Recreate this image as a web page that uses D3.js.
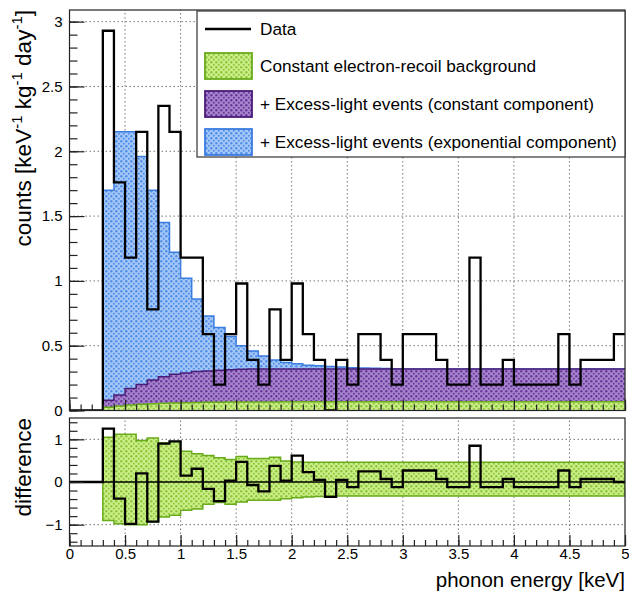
<!DOCTYPE html>
<html>
<head>
<meta charset="utf-8">
<script src="https://cdn.jsdelivr.net/npm/d3@7"></script>
<style>
    body { margin: 0; background: #fff; }
    svg text { font-family: "Liberation Sans", Arial, Helvetica, sans-serif; fill: #000; }
</style>
</head>
<body>
<div id="chart"></div>
<script>
// lower edge of every 0.1 keV bin that has content
var binLow = [0.3, 0.4, 0.5, 0.6, 0.7, 0.8, 0.9, 1.0, 1.1, 1.2,
              1.3, 1.4, 1.5, 1.6, 1.7, 1.8, 1.9, 2.0, 2.1, 2.2,
              2.3, 2.4, 2.5, 2.6, 2.7, 2.8, 2.9, 3.0, 3.1, 3.2,
              3.3, 3.4, 3.5, 3.6, 3.7, 3.8, 3.9, 4.0, 4.1, 4.2,
              4.3, 4.4, 4.5, 4.6, 4.7, 4.8, 4.9];
var binWidth = 0.1;

// measured rate, counts / (keV kg day)
var dataRate = [2.93, 1.76, 1.18, 2.15, 0.78, 2.35, 2.15, 1.18, 1.18, 0.59,
                0.20, 0.59, 0.98, 0.39, 0.20, 0.78, 0.39, 0.98, 0.59, 0.39,
                0.00, 0.39, 0.20, 0.59, 0.59, 0.39, 0.20, 0.59, 0.59, 0.59,
                0.39, 0.20, 0.20, 1.18, 0.20, 0.20, 0.39, 0.20, 0.20, 0.20,
                0.20, 0.59, 0.20, 0.39, 0.39, 0.39, 0.59];

// stacked model (cumulative heights)
var erBackground = [0.025, 0.035, 0.042, 0.048, 0.052, 0.055, 0.058, 0.060, 0.062, 0.063,
                    0.064, 0.065, 0.065, 0.066, 0.066, 0.066, 0.067, 0.067, 0.067, 0.067,
                    0.067, 0.067, 0.067, 0.067, 0.067, 0.067, 0.067, 0.067, 0.067, 0.067,
                    0.067, 0.067, 0.067, 0.067, 0.067, 0.067, 0.067, 0.067, 0.067, 0.067,
                    0.067, 0.067, 0.067, 0.067, 0.067, 0.067, 0.067];
var plusConstant = [0.08, 0.12, 0.17, 0.20, 0.235, 0.26, 0.28, 0.29, 0.30, 0.305,
                    0.31, 0.315, 0.318, 0.32, 0.32, 0.32, 0.32, 0.32, 0.32, 0.32,
                    0.32, 0.32, 0.32, 0.32, 0.32, 0.32, 0.32, 0.32, 0.32, 0.32,
                    0.32, 0.32, 0.32, 0.32, 0.32, 0.32, 0.32, 0.32, 0.32, 0.32,
                    0.32, 0.32, 0.32, 0.32, 0.32, 0.32, 0.32];
var plusExponential = [1.70, 2.15, 2.15, 1.96, 1.70, 1.45, 1.22, 1.02, 0.86, 0.73,
                       0.64, 0.57, 0.50, 0.46, 0.42, 0.39, 0.37, 0.36, 0.35, 0.345,
                       0.34, 0.335, 0.33, 0.328, 0.326, 0.324, 0.322, 0.32, 0.32, 0.32,
                       0.32, 0.32, 0.32, 0.32, 0.32, 0.32, 0.32, 0.32, 0.32, 0.32,
                       0.32, 0.32, 0.32, 0.32, 0.32, 0.32, 0.32];

// lower panel: data minus model and the band around zero
var difference = [1.25, -0.39, -0.98, 0.20, -0.93, 0.90, 0.95, 0.15, 0.31, -0.16,
                  -0.45, 0.03, 0.47, -0.07, -0.22, 0.38, 0.03, 0.62, 0.23, 0.05,
                  -0.35, 0.05, -0.12, 0.25, 0.25, 0.07, -0.12, 0.27, 0.27, 0.27,
                  0.07, -0.12, -0.12, 0.85, -0.12, -0.12, 0.07, -0.12, -0.12, -0.12,
                  -0.12, 0.27, -0.12, 0.07, 0.07, 0.07, 0.00];
var bandHigh = [1.05, 1.12, 1.12, 0.97, 1.03, 0.92, 0.95, 0.72, 0.66, 0.62,
                0.57, 0.53, 0.60, 0.55, 0.55, 0.58, 0.49, 0.47, 0.46, 0.46,
                0.46, 0.46, 0.46, 0.46, 0.46, 0.46, 0.46, 0.46, 0.46, 0.46,
                0.46, 0.46, 0.46, 0.46, 0.46, 0.46, 0.46, 0.46, 0.46, 0.46,
                0.46, 0.46, 0.46, 0.46, 0.46, 0.46, 0.46];
var bandLow = [-0.90, -0.98, -1.00, -1.00, -0.93, -0.82, -0.78, -0.66, -0.63, -0.52,
               -0.48, -0.52, -0.47, -0.43, -0.43, -0.43, -0.39, -0.37, -0.35, -0.34,
               -0.33, -0.33, -0.33, -0.33, -0.33, -0.33, -0.33, -0.33, -0.33, -0.33,
               -0.33, -0.33, -0.33, -0.33, -0.33, -0.33, -0.33, -0.33, -0.33, -0.33,
               -0.33, -0.33, -0.33, -0.33, -0.33, -0.33, -0.33];

var xTicks = [0, 0.5, 1, 1.5, 2, 2.5, 3, 3.5, 4, 4.5, 5];
var topTicks = [0, 0.5, 1, 1.5, 2, 2.5, 3];
var diffTicks = [-1, 0, 1];

var legendLabels = ["Data",
                    "Constant electron-recoil background",
                    "+ Excess-light events (constant component)",
                    "+ Excess-light events (exponential component)"];

var W = 629, H = 596;

var svg = d3.select("#chart").append("svg")
    .attr("width", W)
    .attr("height", H);

var defs = svg.append("defs");

// ROOT-like dotted fill patterns
function addPattern(id, bg, dot) {
    var p = defs.append("pattern")
        .attr("id", id)
        .attr("width", 5)
        .attr("height", 5)
        .attr("patternUnits", "userSpaceOnUse");
    p.append("rect").attr("width", 5).attr("height", 5).attr("fill", bg);
    p.append("circle").attr("cx", 1.3).attr("cy", 1.3).attr("r", 1.2).attr("fill", dot);
    p.append("circle").attr("cx", 3.8).attr("cy", 3.8).attr("r", 1.0).attr("fill", dot);
}
addPattern("patBlue", "#a4c7f7", "#4f8ee9");
addPattern("patPurple", "#a584cc", "#6a389c");
addPattern("patGreen", "#cbee88", "#8cc63a");

var colBlue = "#3b7ce0", colPurple = "#4a1c78", colGreen = "#6aab1c";

var x = d3.scaleLinear().domain([0, 5]).range([69.5, 625]);
var yTop = d3.scaleLinear().domain([0, 3.09]).range([410.5, 10]);
var yBot = d3.scaleLinear().domain([-1.5, 1.5]).range([546, 418]);

defs.append("clipPath").attr("id", "clipTop")
    .append("rect").attr("x", x(0)).attr("y", yTop(3.09))
    .attr("width", x(5) - x(0)).attr("height", yTop(0) - yTop(3.09));
defs.append("clipPath").attr("id", "clipBot")
    .append("rect").attr("x", x(0)).attr("y", yBot(1.5))
    .attr("width", x(5) - x(0)).attr("height", yBot(-1.5) - yBot(1.5));

// turn a per-bin array into step points, closing at 5 keV
function steps(values) {
    var pts = binLow.map(function (b, i) { return {x: b, y: values[i]}; });
    pts.push({x: binLow[binLow.length - 1] + binWidth, y: values[values.length - 1]});
    return pts;
}

// ---------------- grids ----------------
function grid(g, yScale, yVals) {
    g.selectAll(".gx").data(xTicks.slice(1, -1)).enter().append("line")
        .attr("x1", function (d) { return x(d); })
        .attr("x2", function (d) { return x(d); })
        .attr("y1", yScale.range()[0]).attr("y2", yScale.range()[1]);
    g.selectAll(".gy").data(yVals).enter().append("line")
        .attr("x1", x(0)).attr("x2", x(5))
        .attr("y1", function (d) { return yScale(d); })
        .attr("y2", function (d) { return yScale(d); });
    g.selectAll("line")
        .attr("stroke", "#777")
        .attr("stroke-width", 1)
        .attr("stroke-dasharray", "1.5,2.5");
}
grid(svg.append("g"), yTop, topTicks.slice(1));
grid(svg.append("g"), yBot, [-1, 1]);

// ---------------- top panel ----------------
var topPanel = svg.append("g").attr("clip-path", "url(#clipTop)");

var areaTop = d3.area()
    .curve(d3.curveStepAfter)
    .x(function (d) { return x(d.x); })
    .y0(yTop(0))
    .y1(function (d) { return yTop(d.y); });

var stacks = [
    {vals: plusExponential, fill: "url(#patBlue)", stroke: colBlue},
    {vals: plusConstant, fill: "url(#patPurple)", stroke: colPurple},
    {vals: erBackground, fill: "url(#patGreen)", stroke: colGreen}
];
stacks.forEach(function (s) {
    var pts = steps(s.vals);
    topPanel.append("path")
        .attr("d", areaTop(pts))
        .attr("fill", s.fill);
    var outline = [{x: binLow[0], y: 0}].concat(pts);
    topPanel.append("path")
        .attr("d", d3.line().curve(d3.curveStepAfter)
            .x(function (d) { return x(d.x); })
            .y(function (d) { return yTop(d.y); })(outline))
        .attr("fill", "none")
        .attr("stroke", s.stroke)
        .attr("stroke-width", 1.5);
});

var dataPts = [{x: 0, y: 0}].concat(steps(dataRate));
topPanel.append("path")
    .attr("d", d3.line().curve(d3.curveStepAfter)
        .x(function (d) { return x(d.x); })
        .y(function (d) { return yTop(d.y); })(dataPts))
    .attr("fill", "none")
    .attr("stroke", "#000")
    .attr("stroke-width", 2.3);

// ---------------- lower panel ----------------
var botPanel = svg.append("g").attr("clip-path", "url(#clipBot)");

var bandPts = binLow.map(function (b, i) { return {x: b, lo: bandLow[i], hi: bandHigh[i]}; });
bandPts.push({x: 5, lo: bandLow[bandLow.length - 1], hi: bandHigh[bandHigh.length - 1]});

botPanel.append("path")
    .attr("d", d3.area().curve(d3.curveStepAfter)
        .x(function (d) { return x(d.x); })
        .y0(function (d) { return yBot(d.lo); })
        .y1(function (d) { return yBot(d.hi); })(bandPts))
    .attr("fill", "url(#patGreen)")
    .attr("stroke", colGreen)
    .attr("stroke-width", 1.5);

botPanel.append("line")
    .attr("x1", x(0)).attr("x2", x(5))
    .attr("y1", yBot(0)).attr("y2", yBot(0))
    .attr("stroke", "#000")
    .attr("stroke-width", 1.6);

var diffPts = [{x: 0, y: 0}].concat(steps(difference));
botPanel.append("path")
    .attr("d", d3.line().curve(d3.curveStepAfter)
        .x(function (d) { return x(d.x); })
        .y(function (d) { return yBot(d.y); })(diffPts))
    .attr("fill", "none")
    .attr("stroke", "#000")
    .attr("stroke-width", 2.3);

// ---------------- frames and axes ----------------
function frame(yScale) {
    svg.append("rect")
        .attr("x", x(0)).attr("y", yScale.range()[1])
        .attr("width", x(5) - x(0))
        .attr("height", yScale.range()[0] - yScale.range()[1])
        .attr("fill", "none")
        .attr("stroke", "#222")
        .attr("stroke-width", 1.2);
}
frame(yTop);
frame(yBot);

function tenths(n) { return d3.range(0, n + 1).map(function (i) { return i / 10; }); }

function tickAxis(axis, transform, noLabels) {
    var g = svg.append("g").attr("transform", transform).call(axis);
    g.select(".domain").remove();
    g.selectAll("line").attr("stroke", "#222").attr("stroke-width", 1.2);
    if (noLabels) g.selectAll("text").remove();
    return g;
}

// top panel: left ticks 0.1 minor / 0.5 major
tickAxis(d3.axisLeft(yTop).tickValues(tenths(30)).tickSize(-8), "translate(" + x(0) + ",0)", true);
tickAxis(d3.axisLeft(yTop).tickValues(topTicks).tickSize(-15).tickPadding(7)
    .tickFormat(d3.format("")), "translate(" + x(0) + ",0)")
    .selectAll("text").style("font-size", "15px");
// top panel: bottom ticks, no labels
tickAxis(d3.axisBottom(x).tickValues(tenths(50)).tickSize(-6), "translate(0," + yTop(0) + ")", true);
tickAxis(d3.axisBottom(x).tickValues(xTicks).tickSize(-11), "translate(0," + yTop(0) + ")", true);

// lower panel left ticks 0.2 minor / 1 major
tickAxis(d3.axisLeft(yBot).tickValues(d3.range(-7, 8).map(function (i) { return i / 5; })).tickSize(-8),
    "translate(" + x(0) + ",0)", true);
tickAxis(d3.axisLeft(yBot).tickValues(diffTicks).tickSize(-15).tickPadding(7)
    .tickFormat(d3.format("")), "translate(" + x(0) + ",0)")
    .selectAll("text").style("font-size", "15px");
// lower panel bottom ticks with labels
tickAxis(d3.axisBottom(x).tickValues(tenths(50)).tickSize(-6), "translate(0," + yBot(-1.5) + ")", true);
tickAxis(d3.axisBottom(x).tickValues(xTicks).tickSize(-11).tickPadding(2)
    .tickFormat(d3.format("")), "translate(0," + yBot(-1.5) + ")")
    .selectAll("text").style("font-size", "15px");

// axis titles
svg.append("text")
    .attr("x", x(5))
    .attr("y", 587)
    .attr("text-anchor", "end")
    .style("font-size", "20.5px")
    .text("phonon energy [keV]");

var yt = svg.append("text")
    .attr("transform", "translate(31," + yTop(3.09) + ") rotate(-90)")
    .attr("text-anchor", "end")
    .style("font-size", "22.5px");
yt.append("tspan").text("counts [keV");
yt.append("tspan").attr("dy", -9).style("font-size", "15px").text("-1");
yt.append("tspan").attr("dy", 9).text(" kg");
yt.append("tspan").attr("dy", -9).style("font-size", "15px").text("-1");
yt.append("tspan").attr("dy", 9).text(" day");
yt.append("tspan").attr("dy", -9).style("font-size", "15px").text("-1");
yt.append("tspan").attr("dy", 9).text("]");

svg.append("text")
    .attr("transform", "translate(31," + yBot(1.5) + ") rotate(-90)")
    .attr("text-anchor", "end")
    .style("font-size", "22.5px")
    .text("difference");

// ---------------- legend ----------------
var leg = svg.append("g");
leg.append("rect")
    .attr("x", 197).attr("y", 11)
    .attr("width", 428).attr("height", 146)
    .attr("fill", "#fff")
    .attr("stroke", "#333")
    .attr("stroke-width", 1.2);

var swatchFill = [null, "url(#patGreen)", "url(#patPurple)", "url(#patBlue)"];
var swatchStroke = ["#000", colGreen, colPurple, colBlue];
var rowY = [29, 66, 104, 142];

var rows = leg.selectAll(".row")
    .data(legendLabels)
    .enter().append("g")
    .attr("transform", function (d, i) { return "translate(0," + rowY[i] + ")"; });

rows.each(function (d, i) {
    var r = d3.select(this);
    if (i === 0) {
        r.append("line")
            .attr("x1", 205).attr("x2", 251)
            .attr("stroke", "#000").attr("stroke-width", 2.3);
    } else {
        r.append("rect")
            .attr("x", 205).attr("y", -13)
            .attr("width", 47).attr("height", 26)
            .attr("fill", swatchFill[i])
            .attr("stroke", swatchStroke[i])
            .attr("stroke-width", 1.8);
    }
    r.append("text")
        .attr("x", 260)
        .attr("y", 6)
        .style("font-size", "17.2px")
        .text(d);
});
</script>
</body>
</html>
